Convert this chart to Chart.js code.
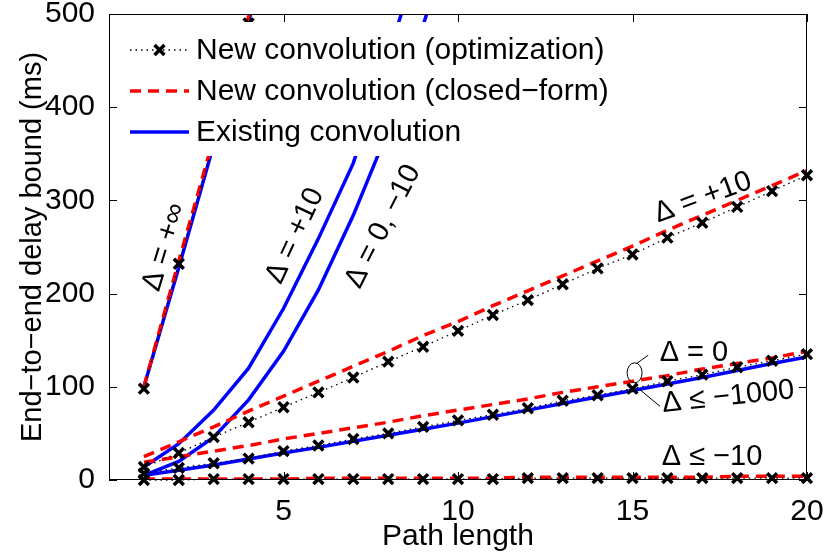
<!DOCTYPE html>
<html>
<head>
<meta charset="utf-8">
<script src="https://cdn.jsdelivr.net/npm/chart.js@4.4.1/dist/chart.umd.min.js"></script>
<style>
  html, body { margin: 0; padding: 0; background: #fff; }
</style>
</head>
<body>
<canvas id="myChart" width="827" height="559"></canvas>
<script>
// path length (x) for every series
var pathLen = [1, 2, 3, 4, 5, 6, 7, 8, 9, 10, 11, 12, 13, 14, 15, 16, 17, 18, 19, 20];
var xTicks = [5, 10, 15, 20];

// New convolution (optimization), markers
var optInf = [98, 232, 362, 490, 620];
var opt10 = [14, 29, 46, 62, 78, 94, 110, 127, 143, 160, 177, 193, 210, 227, 242, 260, 276, 293, 310, 327];
var opt0 = [7, 13, 18, 23, 31, 37, 44, 50, 57, 64, 70, 77, 85, 91, 98, 106, 113, 121, 128, 135];
var optNeg10 = [0, 0, 1, 1, 1, 1, 1, 1, 1, 1, 1, 2, 2, 2, 2, 2, 2, 2, 2, 2];

// New convolution (closed-form), red dashed
var cfInf = [100, 235, 367, 497, 630];
var cf10 = [25, 41, 57, 74, 90, 106, 122, 138, 155, 170, 187, 203, 219, 235, 251, 268, 284, 300, 316, 332];
var cf0 = [19, 25, 31, 37, 44, 50, 56, 62, 69, 75, 81, 87, 94, 100, 106, 112, 119, 125, 131, 138];
var cfNeg10 = [1, 1, 1, 1, 1, 2, 2, 2, 2, 2, 2, 3, 3, 3, 3, 3, 3, 4, 4, 4];

// Existing convolution, blue solid
var exInf = [100, 228, 360, 492, 625];
var ex10 = [14, 39, 75, 120, 184, 259, 340, 455, 575];
var ex0 = [5, 20, 46, 86, 138, 204, 284, 375, 488, 605];
var exNeg1000 = [5, 10.5, 16, 22.5, 29, 35, 41.5, 48, 54.5, 61, 68, 75, 82, 89, 96, 103, 110, 117.5, 125, 132];

var legendLabels = ['New convolution (optimization)', 'New convolution (closed\u2212form)', 'Existing convolution'];
var yTitle = 'End\u2212to\u2212end delay bound (ms)';

// text notes, placed in data units
var notes = [
    { t: '\u0394 = +\u221e', x: 1.58, y: 250, rot: -73 },
    { t: '\u0394 = +10', x: 5.33, y: 262, rot: -65 },
    { t: '\u0394 = 0, \u221210', x: 7.85, y: 272, rot: -63 },
    { t: '\u0394 = +10', x: 17.02, y: 303, rot: -20 },
    { t: '\u0394 = 0', x: 16.76, y: 136, rot: 0 },
    { t: '\u0394 \u2264 \u22121000', x: 17.74, y: 89, rot: -6 },
    { t: '\u0394 \u2264 \u221210', x: 17.28, y: 25, rot: 0 }
];

var FONT = '"Liberation Sans", Arial, Helvetica, sans-serif';
Chart.defaults.font.family = FONT;
Chart.defaults.color = '#000';

function pts(ys) {
    return ys.map(function (v, i) { return { x: pathLen[i], y: v }; });
}

var markClip = { left: 10, right: 10, top: 0, bottom: 10 };

function optSet(ys) {
    return {
        data: pts(ys), borderColor: '#000', borderWidth: 1.3, borderDash: [1.5, 4],
        pointStyle: 'crossRot', pointRadius: 7, pointBorderWidth: 3.5,
        pointBorderColor: '#000', pointBackgroundColor: '#000',
        clip: markClip, order: 1
    };
}
function cfSet(ys) {
    return {
        data: pts(ys), borderColor: '#ff0000', borderWidth: 3.5, borderDash: [11, 7],
        pointRadius: 0, order: 2
    };
}
function exSet(ys) {
    return {
        data: pts(ys), borderColor: '#0000ff', borderWidth: 3.5,
        pointRadius: 0, order: 3
    };
}

var decor = {
    id: 'decor',
    afterDraw: function (chart) {
        var ctx = chart.ctx, a = chart.chartArea;
        var xs = chart.scales.x, ys = chart.scales.y;
        ctx.save();

        // legend box (opaque, no frame)
        ctx.fillStyle = '#fff';
        ctx.fillRect(113, 22, 510, 134);
        var rows = [50, 91, 132];
        ctx.lineCap = 'butt';
        // dotted + marker
        ctx.strokeStyle = '#000';
        ctx.lineWidth = 1.3;
        ctx.setLineDash([1.5, 4]);
        ctx.beginPath(); ctx.moveTo(130, rows[0]); ctx.lineTo(189, rows[0]); ctx.stroke();
        ctx.setLineDash([]);
        ctx.lineWidth = 3.5;
        var r = 4.95, cx = 159.5;
        ctx.beginPath();
        ctx.moveTo(cx - r, rows[0] - r); ctx.lineTo(cx + r, rows[0] + r);
        ctx.moveTo(cx - r, rows[0] + r); ctx.lineTo(cx + r, rows[0] - r);
        ctx.stroke();
        // dashed red
        ctx.strokeStyle = '#ff0000';
        ctx.setLineDash([11, 7]);
        ctx.beginPath(); ctx.moveTo(130, rows[1]); ctx.lineTo(189, rows[1]); ctx.stroke();
        // solid blue
        ctx.setLineDash([]);
        ctx.strokeStyle = '#0000ff';
        ctx.beginPath(); ctx.moveTo(130, rows[2]); ctx.lineTo(189, rows[2]); ctx.stroke();

        ctx.fillStyle = '#000';
        ctx.font = '30px ' + FONT;
        ctx.textAlign = 'left';
        ctx.textBaseline = 'middle';
        legendLabels.forEach(function (s, i) { ctx.fillText(s, 196, rows[i] + 1); });

        // y axis title
        ctx.save();
        ctx.font = '29px ' + FONT;
        ctx.translate(33, (a.top + a.bottom) / 2);
        ctx.rotate(-Math.PI / 2);
        ctx.textAlign = 'center';
        ctx.fillText(yTitle, 0, 0);
        ctx.restore();

        // axes box and inward ticks
        ctx.strokeStyle = '#000';
        ctx.lineWidth = 1;
        ctx.strokeRect(a.left + 0.5, a.top + 0.5, a.right - a.left - 1, a.bottom - a.top - 1);
        ctx.beginPath();
        ys.ticks.forEach(function (t) {
            var py = Math.round(ys.getPixelForValue(t.value)) + 0.5;
            ctx.moveTo(a.left, py); ctx.lineTo(a.left + 8, py);
            ctx.moveTo(a.right, py); ctx.lineTo(a.right - 8, py);
        });
        xs.ticks.forEach(function (t) {
            var px = Math.round(xs.getPixelForValue(t.value)) + 0.5;
            ctx.moveTo(px, a.bottom); ctx.lineTo(px, a.bottom - 8);
            ctx.moveTo(px, a.top); ctx.lineTo(px, a.top + 8);
        });
        ctx.stroke();

        // notes
        ctx.font = '29px ' + FONT;
        ctx.textAlign = 'center';
        notes.forEach(function (n) {
            ctx.save();
            ctx.translate(xs.getPixelForValue(n.x), ys.getPixelForValue(n.y));
            ctx.rotate(n.rot * Math.PI / 180);
            ctx.fillText(n.t, 0, 0);
            ctx.restore();
        });

        // ellipse with two leader lines
        ctx.lineWidth = 1;
        ctx.beginPath();
        ctx.ellipse(xs.getPixelForValue(15.06), ys.getPixelForValue(115), 7.5, 10, 0, 0, 2 * Math.PI);
        ctx.stroke();
        ctx.beginPath();
        ctx.moveTo(xs.getPixelForValue(15.12), ys.getPixelForValue(125));
        ctx.lineTo(xs.getPixelForValue(15.45), ys.getPixelForValue(134));
        ctx.moveTo(xs.getPixelForValue(15.21), ys.getPixelForValue(97));
        ctx.lineTo(xs.getPixelForValue(15.79), ys.getPixelForValue(79));
        ctx.stroke();
        ctx.restore();
    }
};

var config = {
    type: 'line',
    data: {
        datasets: [
            optSet(optInf), optSet(opt10), optSet(opt0), optSet(optNeg10),
            cfSet(cfInf), cfSet(cf10), cfSet(cf0), cfSet(cfNeg10),
            exSet(exInf), exSet(ex10), exSet(ex0), exSet(exNeg1000)
        ]
    },
    options: {
        responsive: false,
        animation: false,
        events: [],
        layout: { padding: { left: 0, right: 20, top: 14, bottom: 0 } },
        plugins: { legend: { display: false }, tooltip: { enabled: false } },
        elements: { line: { tension: 0, fill: false } },
        scales: {
            x: {
                type: 'linear', min: 0, max: 20,
                grid: { display: false },
                border: { display: false },
                afterBuildTicks: function (s) { s.ticks = xTicks.map(function (v) { return { value: v }; }); },
                afterFit: function (s) { s.height = 79; s.paddingLeft = 0; s.paddingRight = 0; },
                ticks: { font: { size: 30, lineHeight: 1 }, padding: 9, maxRotation: 0, autoSkip: false },
                title: { display: true, text: 'Path length', font: { size: 30, lineHeight: 1 }, padding: { top: 0, bottom: 7 } }
            },
            y: {
                type: 'linear', min: 0, max: 500,
                grid: { display: false },
                border: { display: false },
                afterFit: function (s) { s.width = 109; s.paddingTop = 0; s.paddingBottom = 0; },
                ticks: { stepSize: 100, font: { size: 30, lineHeight: 1 }, padding: 6 }
            }
        }
    },
    plugins: [decor]
};

var myChart = new Chart(document.getElementById('myChart'), config);
</script>
</body>
</html>
